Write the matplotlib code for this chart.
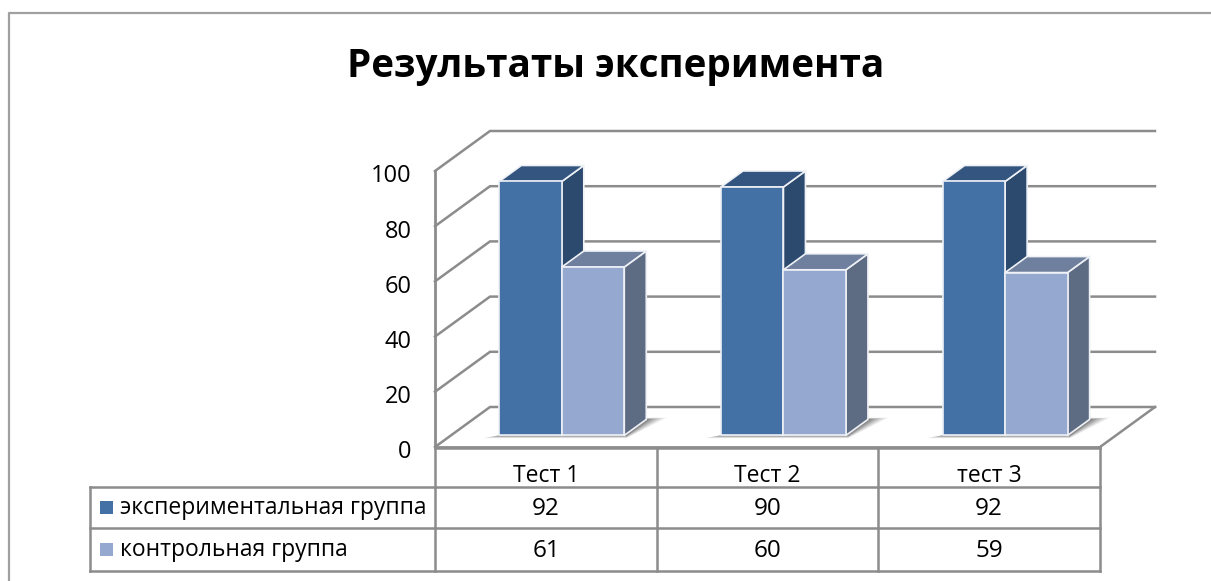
import matplotlib
matplotlib.use('Agg')
import matplotlib.pyplot as plt
from matplotlib.patches import Polygon, Rectangle
from matplotlib.transforms import ScaledTranslation

plt.rcParams['font.family'] = ['Open Sans', 'DejaVu Sans']

# data
categories = ['Тест 1', 'Тест 2', 'тест 3']
series_names = ['экспериментальная группа', 'контрольная группа']
exp_values = [92, 90, 92]
ctrl_values = [61, 60, 59]
y_ticks = [0, 20, 40, 60, 80, 100]

W, H = 1211, 581
GRID = '#8c8c8c'
EDGE = '#eef1f6'
COLORS = [('#4371a6', '#34557f', '#2c4a6e'), ('#95a9d0', '#6f7f9e', '#5e6c83')]

fig = plt.figure(figsize=(W / 100, H / 100), dpi=100)

# pixel overlay for frame and table
bg = fig.add_axes([0, 0, 1, 1])
bg.set_xlim(0, W)
bg.set_ylim(H, 0)
bg.axis('off')

# front plane of the chart: x 435..1100, y 447..171
L, R, B, T = 435, 1100, 447, 171
ax = fig.add_axes([L / W, 1 - B / H, (R - L) / W, (B - T) / H])
ax.set_xlim(-0.5, 2.5)
ax.set_ylim(0, 100)
ax.patch.set_alpha(0)
for s in ax.spines.values():
    s.set_visible(False)

DX = 55 / ((R - L) / 3)   # depth in category units
DY = 40 / ((B - T) / 100)  # depth in value units
BAR_W = 62.5 / ((R - L) / 3)
F0, F1 = 0.29, 0.69  # bars stand in the middle of the floor depth

# walls
for v in y_ticks:
    ax.plot([-0.5, -0.5 + DX, 2.5 + DX], [v, v + DY, v + DY], color=GRID, lw=1.8,
            clip_on=False, zorder=1, solid_joinstyle='miter')
ax.plot([-0.5, -0.5], [0, 100], color=GRID, lw=2, clip_on=False, zorder=1)
ax.plot([2.5, 2.5 + DX], [0, DY], color=GRID, lw=1.8, clip_on=False, zorder=1)
ax.plot([-0.5, 2.5], [0, 0], color=GRID, lw=2, clip_on=False, zorder=1)


def bar3d(x0, h, cols):
    xa = x0 + F0 * DX
    xb = xa + BAR_W
    ya = F0 * DY
    ddx = (F1 - F0) * DX
    ddy = (F1 - F0) * DY
    front, top, side = cols
    kw = dict(edgecolor=EDGE, lw=1.2, clip_on=False, zorder=4, joinstyle='round')
    ax.add_patch(Polygon([(xb, ya), (xb + ddx, ya + ddy), (xb + ddx, ya + ddy + h), (xb, ya + h)],
                         facecolor=side, **kw))
    ax.add_patch(Polygon([(xa, ya + h), (xb, ya + h), (xb + ddx, ya + ddy + h), (xa + ddx, ya + ddy + h)],
                         facecolor=top, **kw))
    ax.add_patch(Rectangle((xa, ya), BAR_W, h, facecolor=front, **kw))


def shadow(x0):
    sx0 = x0 + F0 * DX
    sx1 = sx0 + 2 * BAR_W
    ya = F0 * DY
    ddx = (F1 - F0) * DX
    ddy = (F1 - F0) * DY
    for k, a in [(1.0, 0.10), (0.8, 0.13), (0.6, 0.17), (0.4, 0.22), (0.2, 0.28)]:
        ax.add_patch(Polygon([(sx0 - 0.075 * k, ya - 1.0 * k),
                              (sx1 + 0.01, ya - 1.0 * k),
                              (sx1 + ddx + 0.09 * k, ya + ddy + 0.6 * k),
                              (sx1 + ddx, ya + ddy + 0.6 * k),
                              (sx1, ya),
                              (sx0, ya)],
                             facecolor='#444444', edgecolor='none', alpha=a,
                             clip_on=False, zorder=2))


for i, (e, c) in enumerate(zip(exp_values, ctrl_values)):
    left = i - BAR_W
    shadow(left)
    bar3d(left, e, COLORS[0])
    bar3d(left + BAR_W, c, COLORS[1])

ax.set_xticks([])
ax.set_yticks(y_ticks)
ax.tick_params(axis='y', length=0, pad=17, labelsize=17)
for lab in ax.get_yticklabels():
    lab.set_transform(lab.get_transform() + ScaledTranslation(0, -2.5 / 100, fig.dpi_scale_trans))

# chart frame: only top and left edges show in the crop
bg.plot([W, 9, 9], [12.5, 12.5, H], color='#a0a0a0', lw=1.6)

# title
bg.text(616, 66, 'Результаты эксперимента', ha='center', va='center',
        fontsize=27.8, fontweight='bold', color='black')

# data table
rows_y = [447.5, 487, 528, 570.5]
cols_x = [435, 657, 878, 1100]
kw = dict(color=GRID, lw=1.8, solid_capstyle='projecting')
for y in rows_y[1:]:
    bg.plot([90, 1100], [y, y], **kw)
bg.plot([435, 1100], [rows_y[0], rows_y[0]], **kw)
bg.plot([90, 90], [rows_y[1], rows_y[3]], **kw)
for x in cols_x:
    bg.plot([x, x], [rows_y[0], rows_y[3]], **kw)

for j, name in enumerate(categories):
    bg.text((cols_x[j] + cols_x[j + 1]) / 2, 476.5, name, ha='center', va='center', fontsize=16.5)
for r, (name, vals) in enumerate(zip(series_names, [exp_values, ctrl_values])):
    yc = (rows_y[r + 1] + rows_y[r + 2]) / 2
    bg.add_patch(Rectangle((100, yc - 6.5), 13, 13, facecolor=COLORS[r][0], edgecolor='none'))
    bg.text(120, yc + 0.5, name, ha='left', va='center', fontsize=16.5)
    for j, v in enumerate(vals):
        bg.text((cols_x[j] + cols_x[j + 1]) / 2, yc + 1.5, str(v), ha='center', va='center', fontsize=17.5)

fig.savefig('out.png', dpi=100)
